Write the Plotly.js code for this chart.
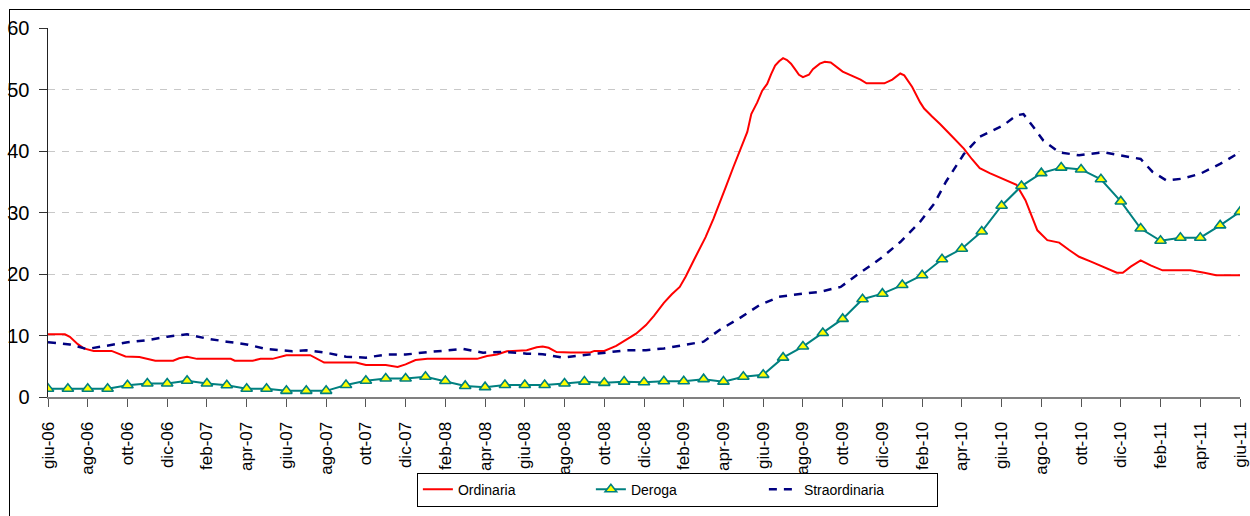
<!DOCTYPE html>
<html>
<head>
<meta charset="utf-8">
<script src="https://cdn.plot.ly/plotly-3.0.1.min.js"></script>
<style>
  html, body { margin: 0; padding: 0; background: #fff; overflow: hidden; }
  #chart { position: absolute; left: 0; top: 0; width: 1250px; height: 516px; }
  #frame { position: absolute; left: 9px; top: 9px; width: 1400px; height: 700px;
           border: 1.5px solid #000; pointer-events: none; }
</style>
</head>
<body>
<div id="chart"></div>
<div id="frame"></div>
<script>
// Month index 0 = giu-06 ... 60 = giu-11
const tickLabels = ['giu-06','ago-06','ott-06','dic-06','feb-07','apr-07','giu-07','ago-07','ott-07','dic-07',
  'feb-08','apr-08','giu-08','ago-08','ott-08','dic-08','feb-09','apr-09','giu-09','ago-09',
  'ott-09','dic-09','feb-10','apr-10','giu-10','ago-10','ott-10','dic-10','feb-11','apr-11','giu-11'];
const tickPositions = [0,2,4,6,8,10,12,14,16,18,20,22,24,26,28,30,32,34,36,38,40,42,44,46,48,50,52,54,56,58,60];

// Ordinaria (finely sampled, x in months from giu-06)
const ordX = [0,0.85,1.1,1.5,1.8,2.3,3.2,3.9,4.6,5.4,6.3,6.6,7.0,7.5,9.2,9.4,10.3,10.7,11.3,12.0,13.2,13.9,15.5,16.0,17.0,17.6,18.0,18.5,19.1,21.6,22.1,22.6,23.1,24.1,24.6,24.9,25.2,25.6,26.3,27.3,27.5,28.0,28.6,29.1,29.6,30.1,30.5,31.0,31.4,31.8,32.1,32.5,32.8,33.1,33.5,33.8,34.1,34.5,34.9,35.2,35.4,35.7,35.95,36.2,36.4,36.6,36.8,37.0,37.2,37.4,37.6,37.8,38.0,38.3,38.5,38.85,39.1,39.4,40.0,40.5,40.9,41.2,42.1,42.5,42.9,43.1,43.5,43.9,44.1,44.5,44.9,45.5,46.1,46.5,46.9,47.4,47.9,48.4,48.75,49.2,49.5,49.8,50.3,50.9,51.4,51.9,52.5,53.1,53.8,54.1,54.5,55.0,55.5,56.1,57.5,58.2,58.8,60];
const ordY = [10.2,10.2,9.8,8.6,7.9,7.5,7.5,6.6,6.5,5.9,5.9,6.3,6.55,6.2,6.2,5.9,5.9,6.2,6.2,6.8,6.8,5.6,5.6,5.2,5.2,4.9,5.3,6.0,6.2,6.2,6.65,6.9,7.45,7.6,8.1,8.2,8.0,7.3,7.25,7.25,7.5,7.5,8.3,9.25,10.3,11.7,13.2,15.3,16.7,17.9,19.6,22.2,24.0,26.0,29.0,31.4,34.0,37.4,40.5,43.1,46.0,47.9,49.8,50.9,52.5,53.9,54.6,55.1,54.8,54.2,53.3,52.4,52.0,52.4,53.3,54.2,54.5,54.4,52.9,52.2,51.6,51.0,51.0,51.6,52.6,52.3,50.4,47.9,46.9,45.6,44.4,42.4,40.4,38.7,37.2,36.4,35.7,34.9,34.5,32.0,29.5,27.1,25.5,25.1,23.9,22.8,22.0,21.2,20.2,20.2,21.2,22.2,21.4,20.6,20.6,20.2,19.8,19.8];

// Deroga (monthly)
const derX = [0,1,2,3,4,5,6,7,8,9,10,11,12,13,14,15,16,17,18,19,20,21,22,23,24,25,26,27,28,29,30,31,32,33,34,35,36,37,38,39,40,41,42,43,44,45,46,47,48,49,50,51,52,53,54,55,56,57,58,59,60];
const derY = [1.35,1.35,1.35,1.35,1.9,2.2,2.2,2.65,2.2,1.9,1.35,1.35,1.0,1.0,1.0,1.95,2.65,3.0,3.0,3.3,2.6,1.8,1.6,1.95,1.95,1.95,2.2,2.5,2.3,2.5,2.4,2.55,2.55,2.9,2.5,3.3,3.6,6.4,8.2,10.4,12.7,15.9,16.8,18.2,19.8,22.4,24.1,26.9,31.1,34.3,36.4,37.3,37.0,35.4,31.8,27.4,25.4,25.9,25.9,27.9,30.1];

// Straordinaria
const strX = [0,1.1,1.95,2.8,4.0,5.0,6.0,7.0,8.0,9.0,10.0,11.0,12.3,13.0,14.0,15.0,16.0,17.0,18.0,19.1,20.1,20.9,21.9,22.9,24.1,24.9,25.9,26.9,27.95,29.1,30.1,31.0,32.0,33.0,33.8,34.8,35.8,36.8,38.0,38.85,39.9,40.7,41.9,42.9,43.9,44.6,45.2,46.1,46.9,48.1,48.75,49.1,49.6,50.1,50.9,51.9,53.1,54.1,55.0,55.6,56.3,57.1,58.0,59.0,60];
const strY = [8.9,8.55,7.8,8.3,8.9,9.25,9.8,10.2,9.5,9.0,8.55,7.8,7.45,7.6,7.2,6.55,6.4,6.9,6.9,7.3,7.6,7.8,7.2,7.35,7.05,6.95,6.4,6.8,7.25,7.6,7.6,7.9,8.45,9.0,10.9,12.8,14.9,16.3,16.8,17.1,17.9,19.8,22.5,25.2,28.5,31.4,35.0,39.5,42.3,44.2,45.8,46.0,43.9,41.7,39.8,39.3,39.8,39.2,38.7,36.6,35.2,35.5,36.3,37.9,39.8];

const seriesNames = ['Ordinaria', 'Deroga', 'Straordinaria'];
const yTicks = [0,10,20,30,40,50,60];

const font = 'Liberation Sans, Arial, sans-serif';

const traces = [
  { x: ordX, y: ordY, name: seriesNames[0], type: 'scatter', mode: 'lines',
    line: { color: '#FF0000', width: 2 } },
  { x: derX, y: derY, name: seriesNames[1], type: 'scatter', mode: 'lines+markers',
    line: { color: '#008080', width: 2 },
    marker: { symbol: 'triangle-up', size: 10, color: '#FFFF00', line: { color: '#008080', width: 1.6 } } },
  { x: strX, y: strY, name: seriesNames[2], type: 'scatter', mode: 'lines',
    line: { color: '#000080', width: 2.5, dash: '8px,7px' } }
];

const layout = {
  width: 1250, height: 516,
  margin: { l: 48, r: 10, t: 27.5, b: 119, autoexpand: false },
  paper_bgcolor: '#fff', plot_bgcolor: '#fff',
  font: { family: font, color: '#000' },
  showlegend: true,
  xaxis: {
    range: [0, 60], autorange: false,
    tickmode: 'array', tickvals: tickPositions, ticktext: tickLabels,
    tickangle: -90, tickfont: { size: 17, family: font, color: '#000' },
    ticks: 'outside', ticklen: 8, tickcolor: '#555', tickwidth: 1,
    showline: true, linecolor: '#808080', linewidth: 2,
    showgrid: false, zeroline: false, ticklabelstandoff: 8
  },
  yaxis: {
    range: [0, 60], autorange: false,
    tickmode: 'array', tickvals: yTicks,
    tickfont: { size: 20, family: font, color: '#000' },
    ticks: 'outside', ticklen: 8, tickcolor: '#333', tickwidth: 1,
    showline: true, linecolor: '#222', linewidth: 1.5,
    showgrid: true, gridcolor: '#c8c8c8', gridwidth: 1, griddash: '7px,7px',
    zeroline: false, ticklabelstandoff: 5
  },
  legend: {
    orientation: 'h', x: 0.528, xanchor: 'center', y: -0.205, yanchor: 'top',
    bordercolor: '#000', borderwidth: 1, bgcolor: '#fff',
    font: { size: 14, family: font, color: '#000' },
    entrywidth: 128, entrywidthmode: 'pixels', traceorder: 'normal'
  }
};

Plotly.newPlot('chart', traces, layout, { displayModeBar: false, staticPlot: true });
</script>
</body>
</html>
